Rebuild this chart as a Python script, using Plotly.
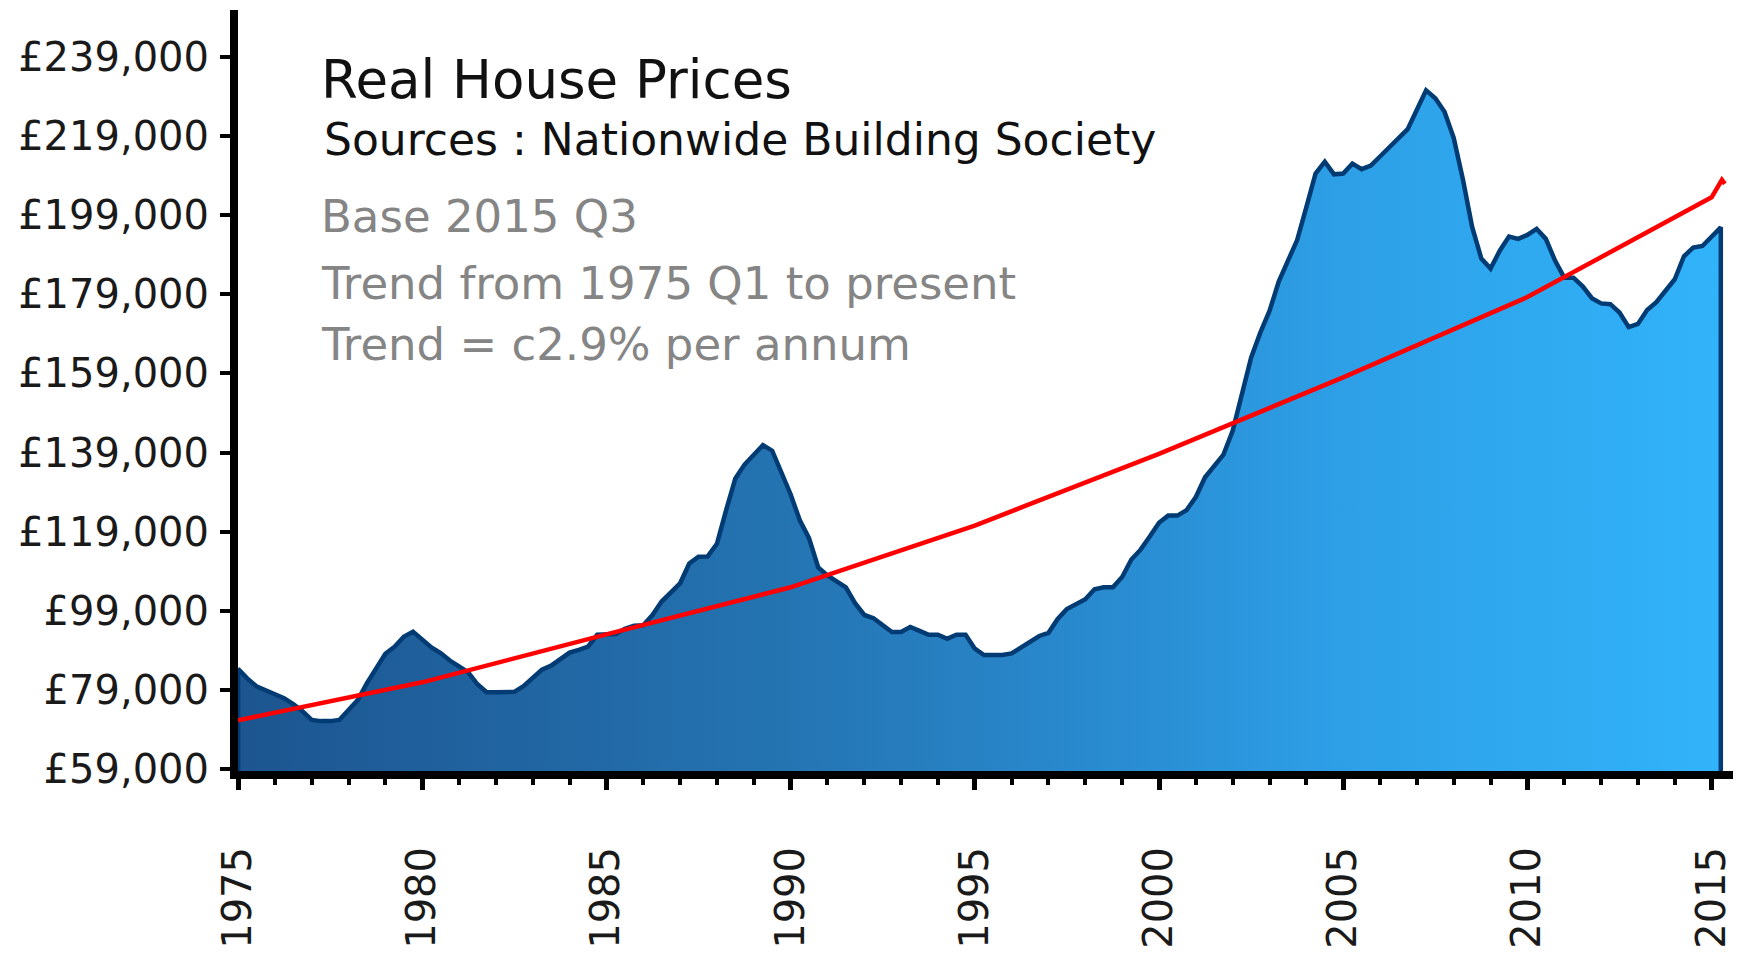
import plotly.graph_objects as go

# ---------------- data ----------------
start_year = 1975
quarters_per_year = 4

# Real house price (GBP, base 2015 Q3), quarterly from 1975 Q1
prices = [
    84400, 82000, 80000, 79000,      # 1975
    78000, 77000, 75500, 73700,      # 1976
    71500, 71200, 71200, 71500,      # 1977
    74000, 76500, 80800, 84500,      # 1978
    88200, 90000, 92500, 93800,      # 1979
    91700, 89800, 88400, 86500,      # 1980
    85000, 83500, 80500, 78500,      # 1981
    78500, 78500, 78600, 80000,      # 1982
    82200, 84200, 85200, 86700,      # 1983
    88500, 89200, 90000, 93000,      # 1984
    93000, 93200, 94500, 95300,      # 1985
    95400, 98000, 101400, 103600,    # 1986
    106000, 111000, 112700, 112800,  # 1987
    116000, 124500, 132500, 136000,  # 1988
    138600, 140900, 139500, 134000,  # 1989
    128500, 121900, 117400, 110000,  # 1990
    108000, 106500, 105000, 101000,  # 1991
    98000, 97200, 95500, 93700,      # 1992
    93700, 95000, 94000, 93000,      # 1993
    93000, 92000, 93000, 93000,      # 1994
    89500, 87900, 87900, 87900,      # 1995
    88300, 89800, 91200, 92700,      # 1996
    93500, 97000, 99500, 100800,     # 1997
    102000, 104500, 105000, 105000,  # 1998
    107600, 112000, 114500, 117800,  # 1999
    121300, 123100, 123100, 124500,  # 2000
    127800, 132800, 135600, 138500,  # 2001
    144500, 154200, 163000, 169300,  # 2002
    174800, 182200, 187800, 192700,  # 2003
    201000, 209500, 212500, 209300,  # 2004
    209500, 212000, 210600, 211500,  # 2005
    213800, 216000, 218500, 220700,  # 2006
    225600, 230500, 228500, 225100,  # 2007
    218500, 208000, 196000, 188000,  # 2008
    185500, 190000, 193600, 193000,  # 2009
    194000, 195500, 193000, 187500,  # 2010
    183200, 183200, 181000, 178000,  # 2011
    176700, 176500, 174400, 170700,  # 2012
    171500, 175000, 177000, 179800,  # 2013
    182800, 188600, 190800, 191200,  # 2014
    193500, 195900,                  # 2015
]

# Trend line values
trend_years = [1975, 1980, 1985, 1990, 1995, 2000, 2005, 2010, 2015, 2015.28, 2015.36]
trend_values = [71400, 81000, 93100, 105000, 120600, 138700, 158000, 178300, 203500, 207900, 206900]

y_tick_values = [59000, 79000, 99000, 119000, 139000, 159000, 179000, 199000, 219000, 239000]
x_tick_values = [1975, 1980, 1985, 1990, 1995, 2000, 2005, 2010, 2015]

title_text = "Real House Prices"
source_text = "Sources : Nationwide Building Society"
note_lines = ["Base 2015 Q3", "Trend from 1975 Q1 to present", "Trend = c2.9% per annum"]

# ---------------- figure ----------------
FONT = "DejaVu Sans"
W, H = 1741, 962
L, R, T, B = 230, 0, 2, 199
plot_w = W - L - R
plot_h = H - T - B
px_per_year = 36.84

x_vals = [start_year + i / quarters_per_year for i in range(len(prices))]
y_min = 58600
y_max = 250800
x_min = start_year
x_max = start_year + plot_w / px_per_year

# closed polygon so the right edge of the area is outlined like the original
poly_x = [x_vals[0]] + x_vals + [x_vals[-1]]
poly_y = [y_min] + prices + [y_min]

fig = go.Figure()
fig.add_trace(go.Scatter(
    x=poly_x, y=poly_y, mode="lines", fill="toself",
    line=dict(color="#003b73", width=4.5),
    fillgradient=dict(
        type="horizontal",
        colorscale=[[0, "#1c5590"], [0.37, "#2474b2"], [0.62, "#2a8fd5"],
                    [0.74, "#2d9fe6"], [1, "#31b3fa"]],
    ),
    hoverinfo="skip", showlegend=False,
))
fig.add_trace(go.Scatter(
    x=trend_years, y=trend_values, mode="lines",
    line=dict(color="#ff0000", width=4.5),
    showlegend=False,
))

def px_to_paper_x(px):
    return (px - L) / plot_w

def py_to_paper_y(py):
    return (H - B - py) / plot_h

annotations = [
    dict(text=title_text, x=px_to_paper_x(311), y=py_to_paper_y(71),
         font=dict(family=FONT, size=53, color="#111111")),
    dict(text=source_text, x=px_to_paper_x(314), y=py_to_paper_y(132),
         font=dict(family=FONT, size=44, color="#111111")),
]
for txt, cy in zip(note_lines, [208, 275, 336]):
    annotations.append(dict(text=txt, x=px_to_paper_x(311), y=py_to_paper_y(cy),
                            font=dict(family=FONT, size=45, color="#858585")))
for a in annotations:
    a.update(xref="paper", yref="paper", xanchor="left", yanchor="middle",
             showarrow=False)

fig.update_layout(
    width=W, height=H,
    margin=dict(l=L, r=R, t=T, b=B, autoexpand=False),
    paper_bgcolor="white", plot_bgcolor="white",
    font=dict(family=FONT, color="#1a1a1a"),
    annotations=annotations,
    showlegend=False,
)
fig.update_xaxes(
    range=[x_min, x_max],
    tickmode="array", tickvals=x_tick_values,
    ticktext=[str(v) for v in x_tick_values],
    tickangle=-90,
    ticks="outside", ticklen=11, tickwidth=5, tickcolor="black",
    minor=dict(tickmode="linear", tick0=1975, dtick=1, ticks="outside",
               ticklen=6, tickwidth=4, tickcolor="black"),
    showline=True, linecolor="black", linewidth=8,
    showgrid=False, zeroline=False,
    tickfont=dict(family=FONT, size=40, color="#1a1a1a"),
    ticklabelstandoff=41,
)
fig.update_yaxes(
    range=[y_min, y_max],
    tickmode="array", tickvals=y_tick_values,
    ticktext=["£{:,}".format(v) for v in y_tick_values],
    ticks="outside", ticklen=10, tickwidth=4, tickcolor="black",
    showline=True, linecolor="black", linewidth=8,
    showgrid=False, zeroline=False,
    tickfont=dict(family=FONT, size=40, color="#1a1a1a"),
    ticklabelstandoff=3,
)

fig.write_html("out.html")
